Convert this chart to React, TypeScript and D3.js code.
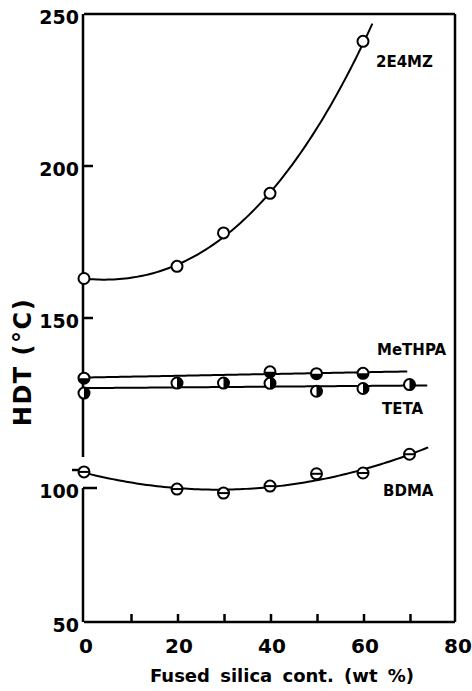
import React from "react";
import * as d3 from "d3";

// fused silica content (wt%) and HDT (°C)
const x2E4MZ = [0, 20, 30, 40, 60];
const y2E4MZ = [163, 167, 178, 191, 241];

const xMeTHPA = [0, 40, 50, 60];
const yMeTHPA = [130.2, 132.3, 131.7, 131.8];

const xTETA = [0, 20, 30, 40, 50, 60, 70];
const yTETA = [125.3, 128.6, 128.6, 128.5, 125.9, 126.8, 128.1];

// BDMA sits on the lower (broken) axis segment
const xBDMA = [0, 20, 30, 40, 50, 60, 70];
const yBDMA = [106.0, 99.6, 98.1, 100.7, 105.3, 105.6, 112.6];

const xTicks = [0, 20, 40, 60, 80];
const xMinorTicks = [10, 20, 30, 40, 50, 60, 70];
const yUpperTicks = [250, 200, 150];
const yLowerTicks = [100, 50];

const W = 472;
const H = 691;
const FONT = "'DejaVu Sans', sans-serif";

// least squares polynomial fit, returns coefficient array c0..cn
function polyfit(xs: number[], ys: number[], deg: number): number[] {
  const n = deg + 1;
  const A: number[][] = [];
  for (let i = 0; i < n; i++) {
    A.push(new Array(n + 1).fill(0));
    for (let j = 0; j < n; j++) {
      A[i][j] = d3.sum(xs, (x) => Math.pow(x, i + j));
    }
    A[i][n] = d3.sum(xs, (x, k) => ys[k] * Math.pow(x, i));
  }
  for (let i = 0; i < n; i++) {
    let p = i;
    for (let r = i + 1; r < n; r++) if (Math.abs(A[r][i]) > Math.abs(A[p][i])) p = r;
    [A[i], A[p]] = [A[p], A[i]];
    for (let r = 0; r < n; r++) {
      if (r === i) continue;
      const f = A[r][i] / A[i][i];
      for (let c = i; c <= n; c++) A[r][c] -= f * A[i][c];
    }
  }
  return A.map((row, i) => row[n] / A[i][i]);
}

const evalPoly = (c: number[], x: number) =>
  c.reduce((s, ci, i) => s + ci * Math.pow(x, i), 0);

const fitCurve = (xs: number[], ys: number[], deg: number, x0: number, x1: number) => {
  const c = polyfit(xs, ys, deg);
  return d3.range(0, 101).map((i) => {
    const x = x0 + ((x1 - x0) * i) / 100;
    return [x, evalPoly(c, x)] as [number, number];
  });
};

type Kind = "open" | "bottom" | "right" | "bar";

const Marker = ({ cx, cy, kind }: { cx: number; cy: number; kind: Kind }) => {
  const r = 5.5;
  return (
    <g>
      <circle cx={cx} cy={cy} r={r} fill="#fff" stroke="#000" strokeWidth={2} />
      {kind === "bottom" && (
        <path d={`M${cx - r},${cy} A${r},${r} 0 0 0 ${cx + r},${cy} Z`} fill="#000" />
      )}
      {kind === "right" && (
        <path d={`M${cx},${cy - r} A${r},${r} 0 0 1 ${cx},${cy + r} Z`} fill="#000" />
      )}
      {kind === "bar" && (
        <line x1={cx - r} x2={cx + r} y1={cy} y2={cy} stroke="#000" strokeWidth={2} />
      )}
    </g>
  );
};

export default function App() {
  const left = 84;
  const right = 455;
  const top = 14;
  const bottom = 622;

  const x = d3.scaleLinear().domain([0, 80]).range([85, 457]);
  const yUp = d3.scaleLinear().domain([100, 250]).range([470, top]);
  const yLow = d3.scaleLinear().domain([50, 100]).range([bottom, 488]);

  const lineUp = d3
    .line<[number, number]>()
    .x((d) => x(d[0]))
    .y((d) => yUp(d[1]));
  const lineLow = d3
    .line<[number, number]>()
    .x((d) => x(d[0]))
    .y((d) => yLow(d[1]));

  const c2E4MZ = fitCurve(x2E4MZ, y2E4MZ, 3, 0, 61.8);
  const cMeTHPA = fitCurve(xMeTHPA, yMeTHPA, 1, 0, 69.3);
  const cTETA = fitCurve(xTETA, yTETA, 1, 0, 73.6);
  const cBDMA = fitCurve(xBDMA, yBDMA, 2, 0, 73.8);

  const curveStyle = { fill: "none", stroke: "#000", strokeWidth: 2 };

  return (
    <svg
      width={W}
      height={H}
      style={{ position: "absolute", left: 0, top: 0, background: "#fff" }}
      fontFamily={FONT}
      fontWeight="bold"
    >
      <rect width={W} height={H} fill="#fff" />

      {/* frame */}
      <g stroke="#000" strokeWidth={2.5} fill="none">
        <line x1={left} x2={right} y1={top} y2={top} />
        <line x1={right} x2={right} y1={top} y2={bottom} />
        <line x1={left} x2={right} y1={bottom} y2={bottom} />
        <line x1={left - 1} x2={left - 1} y1={top} y2={457} />
        <line x1={left - 1} x2={left - 1} y1={488} y2={bottom} />
        <line x1={left - 1} x2={97} y1={488} y2={488} />
        <line x1={72} x2={79} y1={yUp(100)} y2={yUp(100)} />
        {yUpperTicks.slice(1).map((t) => (
          <line key={t} x1={left - 1} x2={93} y1={yUp(t)} y2={yUp(t)} />
        ))}
        {xMinorTicks.map((t) => (
          <line key={t} x1={x(t)} x2={x(t)} y1={bottom} y2={bottom - 8} />
        ))}
      </g>

      {/* y tick labels */}
      <g fontSize={19} textAnchor="end">
        {yUpperTicks.map((t) => (
          <text key={t} x={79} y={yUp(t) + 3} dy="0.35em">
            {t}
          </text>
        ))}
        {yLowerTicks.map((t) => (
          <text key={t} x={79} y={yLow(t) + 3} dy="0.35em">
            {t}
          </text>
        ))}
      </g>

      {/* x tick labels */}
      <g fontSize={20} textAnchor="middle">
        {xTicks.map((t) => (
          <text key={t} x={x(t) + 1} y={653}>
            {t}
          </text>
        ))}
      </g>

      <text x={282} y={682} fontSize={18} textAnchor="middle" wordSpacing={4}>
        Fused silica cont. (wt %)
      </text>
      <text
        transform="translate(31,362) rotate(-90)"
        fontSize={24}
        textAnchor="middle"
        letterSpacing={1.5}
      >
        HDT (°C)
      </text>

      {/* fitted curves */}
      <path d={lineUp(c2E4MZ) || ""} {...curveStyle} />
      <path d={lineUp(cMeTHPA) || ""} {...curveStyle} />
      <path d={lineUp(cTETA) || ""} {...curveStyle} />
      <path d={lineLow(cBDMA) || ""} {...curveStyle} />

      {/* markers */}
      {x2E4MZ.map((v, i) => (
        <Marker key={"a" + i} cx={x(v) - 1} cy={yUp(y2E4MZ[i])} kind="open" />
      ))}
      {xMeTHPA.map((v, i) => (
        <Marker key={"m" + i} cx={x(v) - 1} cy={yUp(yMeTHPA[i])} kind="bottom" />
      ))}
      {xTETA.map((v, i) => (
        <Marker key={"t" + i} cx={x(v) - 1} cy={yUp(yTETA[i])} kind="right" />
      ))}
      {xBDMA.map((v, i) => (
        <Marker key={"b" + i} cx={x(v) - 1} cy={yLow(yBDMA[i])} kind="bar" />
      ))}

      {/* series labels */}
      <g fontSize={15}>
        <text x={376} y={62} dy="0.35em">2E4MZ</text>
        <text x={377} y={350} dy="0.35em">MeTHPA</text>
        <text x={382} y={409} dy="0.35em">TETA</text>
        <text x={383} y={491} dy="0.35em">BDMA</text>
      </g>
    </svg>
  );
}
